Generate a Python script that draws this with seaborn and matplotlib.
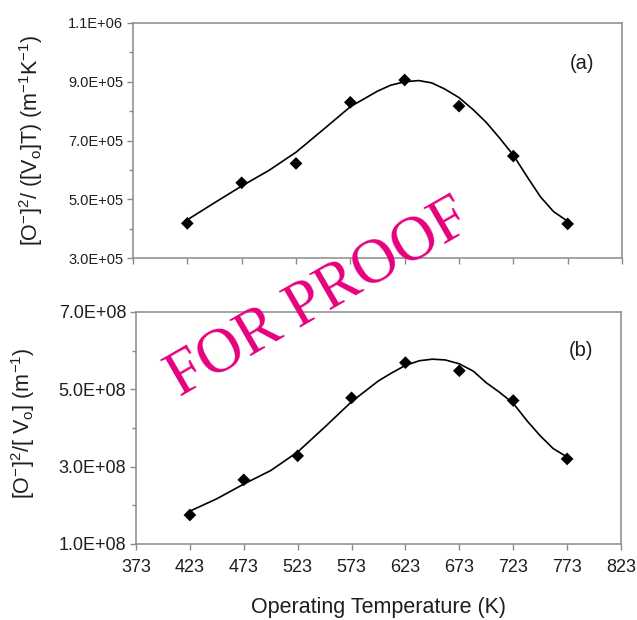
import numpy as np
import pandas as pd
import seaborn as sns
import matplotlib
matplotlib.use("Agg")
import matplotlib.pyplot as plt
from matplotlib.ticker import FormatStrFormatter

# measured points
temps = [423, 473, 523, 573, 623, 673, 723, 773]
ratio_a = [4.18e5, 5.56e5, 6.22e5, 8.30e5, 9.06e5, 8.17e5, 6.47e5, 4.16e5]
ratio_b = [1.75e8, 2.66e8, 3.28e8, 4.78e8, 5.69e8, 5.48e8, 4.71e8, 3.20e8]

# trend curves
fit_temps = [423, 448, 473, 498, 523, 548, 573, 598, 610, 623, 636, 648,
             660, 673, 686, 698, 710, 723, 736, 748, 760, 773]
fit_a = [4.30e5, 4.88e5, 5.45e5, 5.98e5, 6.60e5, 7.37e5, 8.15e5, 8.68e5,
         8.88e5, 9.00e5, 9.04e5, 8.96e5, 8.75e5, 8.46e5, 8.05e5, 7.62e5,
         7.10e5, 6.50e5, 5.75e5, 5.08e5, 4.58e5, 4.25e5]
fit_b = [1.85e8, 2.17e8, 2.55e8, 2.90e8, 3.38e8, 4.02e8, 4.68e8, 5.22e8,
         5.42e8, 5.62e8, 5.74e8, 5.78e8, 5.76e8, 5.66e8, 5.47e8, 5.17e8,
         4.93e8, 4.64e8, 4.18e8, 3.80e8, 3.47e8, 3.25e8]

x_ticks = [373, 423, 473, 523, 573, 623, 673, 723, 773, 823]
yticks_a = [3e5, 5e5, 7e5, 9e5, 1.1e6]
yticks_b = [1e8, 3e8, 5e8, 7e8]

sns.set_style("ticks")
plt.rcParams["font.family"] = ["Liberation Sans", "DejaVu Sans"]
plt.rcParams["mathtext.default"] = "regular"

pts = pd.DataFrame({"T": temps, "a": ratio_a, "b": ratio_b})
fit = pd.DataFrame({"T": fit_temps, "a": fit_a, "b": fit_b})

fig = plt.figure(figsize=(6.37, 6.20), dpi=100)
ax1 = fig.add_axes([133 / 637, 1 - 258 / 620, 489 / 637, 235 / 620])
ax2 = fig.add_axes([136 / 637, 1 - 544 / 620, 485 / 637, 232 / 620])

spine_col = "#8a8a8a"
txt_col = "#1e1e1e"


def panel(ax, col, yticks, tick_fs):
    sns.lineplot(data=fit, x="T", y=col, ax=ax, color="black", lw=1.2)
    sns.scatterplot(data=pts, x="T", y=col, ax=ax, marker="D", s=42,
                    color="black", edgecolor="none", zorder=3)
    ax.set_xlim(x_ticks[0], x_ticks[-1])
    ax.set_ylim(yticks[0], yticks[-1])
    ax.set_xticks(x_ticks)
    ax.set_yticks(yticks)
    half = (yticks[1] - yticks[0]) / 2
    ax.set_yticks([t + half for t in yticks[:-1]], minor=True)
    ax.yaxis.set_major_formatter(FormatStrFormatter("%.1E"))
    for s in ax.spines.values():
        s.set_color(spine_col)
        s.set_linewidth(1.1)
    ax.tick_params(which="both", direction="out", color=spine_col,
                   labelcolor=txt_col, labelsize=tick_fs, width=1,
                   bottom=True, left=True, top=False, right=False)
    ax.tick_params(which="major", length=4, pad=3)
    ax.tick_params(which="minor", length=3)
    ax.set_xlabel("")


panel(ax1, "a", yticks_a, 10.5)
panel(ax2, "b", yticks_b, 13)

ax1.tick_params(axis="x", labelbottom=False)
ax2.tick_params(axis="x", pad=7)

ax1.set_ylabel(r"[O$^{-}$]$^{2}$/ ([V$_{o}$]T) (m$^{-1}$K$^{-1}$)",
               fontsize=15.5, color=txt_col, va="center")
ax1.yaxis.set_label_coords((31 - 133) / 489, 0.5)
ax2.set_ylabel(r"[O$^{-}$]$^{2}$/[ V$_{o}$] (m$^{-1}$)",
               fontsize=15.5, color=txt_col, va="center")
ax2.yaxis.set_label_coords((23 - 136) / 485, 0.52)
ax2.set_xlabel("Operating Temperature (K)", fontsize=15.5, color=txt_col,
               va="center")
ax2.xaxis.set_label_coords(0.5, (544 - 608) / 232)

ax1.text(0.918, 0.826, "(a)", transform=ax1.transAxes, fontsize=14.5,
         color=txt_col, ha="center", va="center")
ax2.text(0.918, 0.836, "(b)", transform=ax2.transAxes, fontsize=14.5,
         color=txt_col, ha="center", va="center")

fig.text(0.500, 0.518, "FOR PROOF", rotation=30, color="#E6007E",
         fontsize=45, family="Liberation Serif", ha="center", va="center",
         rotation_mode="anchor", zorder=10)

fig.savefig("out.png", dpi=100)
